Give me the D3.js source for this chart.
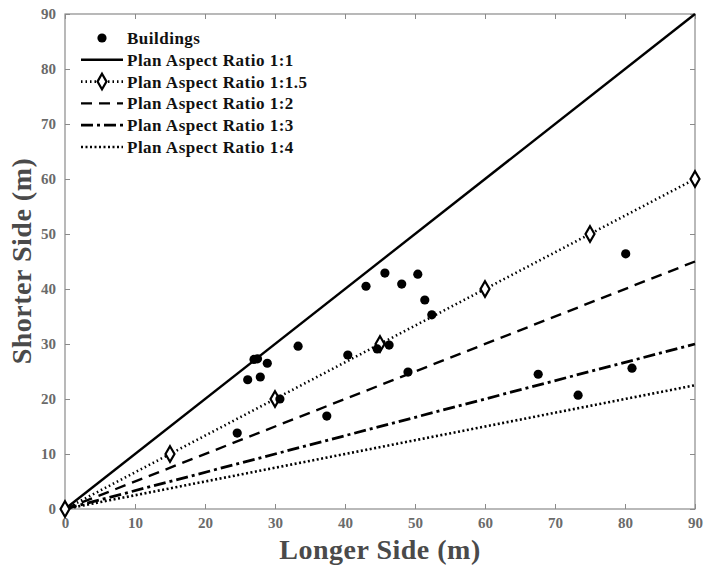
<!DOCTYPE html>
<html>
<head>
<meta charset="utf-8">
<script src="https://cdn.jsdelivr.net/npm/d3@7"></script>
<style>
  body { margin: 0; background: #fff; }
  svg text { font-family: 'Liberation Serif', 'DejaVu Serif', serif; font-weight: bold; }
</style>
</head>
<body>
<svg width="704" height="573"></svg>
<script>
// building footprints (longer side, shorter side) in metres
var longerSide = [26.1, 27.0, 27.5, 27.9, 28.9, 33.3, 30.7, 24.6, 37.4, 40.4, 43.0, 45.7, 48.1, 50.4, 51.4, 52.4, 44.6, 46.3, 49.0, 67.6, 73.3, 80.1, 81.0]
var shorterSide = [23.5, 27.2, 27.3, 24.0, 26.5, 29.6, 20.0, 13.8, 16.9, 28.0, 40.5, 42.9, 40.9, 42.7, 38.0, 35.3, 29.1, 29.8, 24.9, 24.5, 20.7, 46.4, 25.6]

var ratioLabels = ['Plan Aspect Ratio 1:1', 'Plan Aspect Ratio 1:1.5', 'Plan Aspect Ratio 1:2', 'Plan Aspect Ratio 1:3', 'Plan Aspect Ratio 1:4']
var ratios = [1, 1.5, 2, 3, 4]
var markerX = [0, 15, 30, 45, 60, 75, 90]
var xTicks = [0, 10, 20, 30, 40, 50, 60, 70, 80, 90]
var yTicks = [0, 10, 20, 30, 40, 50, 60, 70, 80, 90]

var svg = d3.select('svg')
var margin = {top: 14, right: 9, bottom: 64, left: 65}
var width = 704, height = 573

var x = d3.scaleLinear().domain([0, 90]).range([margin.left, width - margin.right])
var y = d3.scaleLinear().domain([0, 90]).range([height - margin.bottom, margin.top])

var axisColor = '#8a8a8a'
var textColor = '#6a6a6a'

// axes with inward ticks, mirrored on top/right
var styleAxis = function(g) {
  g.select('.domain').remove()
  g.selectAll('line').attr('stroke', axisColor)
  g.selectAll('text').attr('fill', textColor).style('font-size', '15px')
}
svg.append('g').attr('transform', `translate(0,${y(0)})`)
  .call(d3.axisBottom(x).tickValues(xTicks).tickSizeInner(-5).tickSizeOuter(0).tickPadding(8))
  .call(styleAxis)
svg.append('g').attr('transform', `translate(${x(0)},0)`)
  .call(d3.axisLeft(y).tickValues(yTicks).tickSizeInner(-5).tickSizeOuter(0).tickPadding(9))
  .call(styleAxis)
svg.append('g').attr('transform', `translate(0,${y(90)})`)
  .call(d3.axisTop(x).tickValues(xTicks).tickSizeInner(-5).tickSizeOuter(0).tickFormat(''))
  .call(styleAxis)
svg.append('g').attr('transform', `translate(${x(90)},0)`)
  .call(d3.axisRight(y).tickValues(yTicks).tickSizeInner(-5).tickSizeOuter(0).tickFormat(''))
  .call(styleAxis)

svg.append('rect')
  .attr('x', x(0)).attr('y', y(90))
  .attr('width', x(90) - x(0)).attr('height', y(0) - y(90))
  .attr('fill', 'none').attr('stroke', axisColor).attr('stroke-width', 1.2)

var dashes = ['none', '1.5,3', '11,7', '12,4,3,4', '2,2.5']
var widths = [2.4, 2.6, 2.4, 2.8, 2.6]

var plot = svg.append('g')
ratios.forEach(function(r, i) {
  plot.append('line')
    .attr('x1', x(0)).attr('y1', y(0))
    .attr('x2', x(90)).attr('y2', y(90 / r))
    .attr('stroke', '#000')
    .attr('stroke-width', widths[i])
    .attr('stroke-dasharray', dashes[i])
})

var diamond = d3.symbol().type(d3.symbolDiamond).size(70)
plot.selectAll('.mk').data(markerX).enter().append('path')
  .attr('class', 'mk')
  .attr('d', diamond)
  .attr('transform', d => `translate(${x(d)},${y(d / 1.5)})`)
  .attr('fill', '#fff').attr('stroke', '#000').attr('stroke-width', 2.2)

plot.selectAll('.pt').data(longerSide).enter().append('circle')
  .attr('class', 'pt')
  .attr('cx', d => x(d))
  .attr('cy', (d, i) => y(shorterSide[i]))
  .attr('r', 4.6)
  .attr('fill', '#000')

// legend
var lg = svg.append('g')
var lx0 = 81, lx1 = 123, tx = 127, ly = 38, step = 21.8
var legendFont = function(t) {
  t.attr('dy', '0.35em').style('font-size', '17px').style('letter-spacing', '0.5px').attr('fill', '#111')
}
lg.append('circle').attr('cx', (lx0 + lx1) / 2).attr('cy', ly).attr('r', 4.6).attr('fill', '#000')
lg.append('text').attr('x', tx).attr('y', ly).call(legendFont).text('Buildings')
ratioLabels.forEach(function(lab, i) {
  var yy = ly + step * (i + 1)
  lg.append('line').attr('x1', lx0).attr('x2', lx1).attr('y1', yy).attr('y2', yy)
    .attr('stroke', '#000').attr('stroke-width', widths[i]).attr('stroke-dasharray', dashes[i])
  if (i === 1) {
    lg.append('path').attr('d', diamond).attr('transform', `translate(${(lx0 + lx1) / 2},${yy})`)
      .attr('fill', '#fff').attr('stroke', '#000').attr('stroke-width', 2.2)
  }
  lg.append('text').attr('x', tx).attr('y', yy).call(legendFont).text(lab)
})

// axis titles
svg.append('text')
  .attr('x', 380).attr('y', 559)
  .attr('text-anchor', 'middle').attr('fill', '#4a4a4a')
  .style('font-size', '28px').style('letter-spacing', '0.5px')
  .text('Longer Side (m)')
svg.append('text')
  .attr('transform', `translate(31,261) rotate(-90)`)
  .attr('text-anchor', 'middle').attr('fill', '#4a4a4a')
  .style('font-size', '28px').style('letter-spacing', '0.5px')
  .text('Shorter Side (m)')
</script>
</body>
</html>
